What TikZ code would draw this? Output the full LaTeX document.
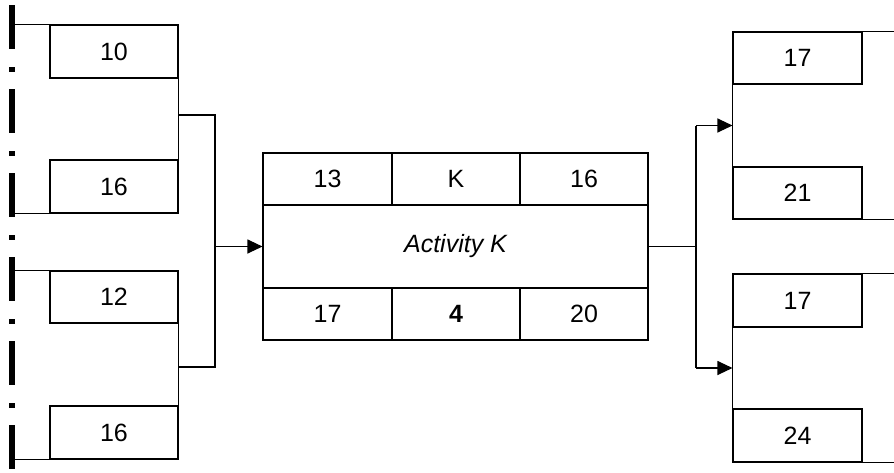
\documentclass[tikz,border=0pt]{standalone}
\usepackage{fontspec}
\setmainfont{Liberation Sans}
\usetikzlibrary{arrows.meta}
\begin{document}
\begin{tikzpicture}[x=1pt,y=-1pt,
  every node/.style={font=\fontsize{25}{30}\selectfont},
  cell/.style={draw,line width=1.1pt,inner sep=0pt,minimum width=128pt,minimum height=53pt},
  conn/.style={line width=1.1pt},
  arr/.style={line width=1.1pt,-{Triangle[length=15pt,width=14pt]}},
  borderline/.style={line width=5.5pt,dash pattern=on 44pt off 18pt on 5pt off 17pt}]
\useasboundingbox (0,0) rectangle (894,472);
% left boundary
\coordinate (Ltop) at (12,5);
\coordinate (Lbot) at (12,472);
\draw[borderline] (Ltop) -- (Lbot);
% left boxes
\node[cell] (a1) at (114,51.5) {10};
\node[cell] (a2) at (114,186.5) {16};
\node[cell,minimum height=52pt] (a3) at (114,297) {12};
\node[cell] (a4) at (114,432.5) {16};
\draw[conn] (a1.north west) -- (a1.north west -| Ltop);
\draw[conn] (a2.south west) -- (a2.south west -| Ltop);
\draw[conn] (a3.north west) -- (a3.north west -| Ltop);
\draw[conn] (a4.south west) -- (a4.south west -| Ltop);
\draw[conn] (a1.south east) -- (a2.north east);
\draw[conn] (a3.south east) -- (a4.north east);
\coordinate (j1) at (215,115);
\coordinate (j2) at (215,367);
\draw[conn] (a1.south east |- j1) -- (j1) -- (j2) -- (a3.south east |- j2);
% middle activity box
\node[cell,minimum width=129pt,minimum height=52pt] (t1) at (327.5,179) {13};
\node[cell,minimum height=52pt] (t2) at (456,179) {K};
\node[cell,minimum height=52pt] (t3) at (584,179) {16};
\node[cell,minimum width=385pt,minimum height=83pt] (mid) at (455.5,246.5) {\itshape Activity K};
\node[cell,minimum width=129pt,minimum height=52pt] (u1) at (327.5,314) {17};
\node[cell,minimum height=52pt] (u2) at (456,314) {\bfseries 4};
\node[cell,minimum height=52pt] (u3) at (584,314) {20};
\draw[arr] (j1 |- mid.west) -- (mid.west);
% right side
\node[cell,minimum width=129pt,minimum height=52pt] (b1) at (797.5,58) {17};
\node[cell,minimum width=129pt,minimum height=52pt] (b2) at (797.5,193) {21};
\node[cell,minimum width=129pt,minimum height=53pt] (b3) at (797.5,300.5) {17};
\node[cell,minimum width=129pt,minimum height=53pt] (b4) at (797.5,435.5) {24};
\coordinate (k0) at (696,246.5);
\coordinate (k1) at (696,125.5);
\coordinate (k2) at (696,368);
\coordinate (R) at (894,0);
\draw[conn] (mid.east) -- (k0);
\draw[conn] (k1) -- (k2);
\draw[arr] (k1) -- (k1 -| b1.west);
\draw[arr] (k2) -- (k2 -| b3.west);
\draw[conn] (b1.south west) -- (b2.north west);
\draw[conn] (b3.south west) -- (b4.north west);
\draw[conn] (b1.north east) -- (b1.north east -| R);
\draw[conn] (b2.south east) -- (b2.south east -| R);
\draw[conn] (b3.north east) -- (b3.north east -| R);
\draw[conn] (b4.south east) -- (b4.south east -| R);
\end{tikzpicture}
\end{document}
